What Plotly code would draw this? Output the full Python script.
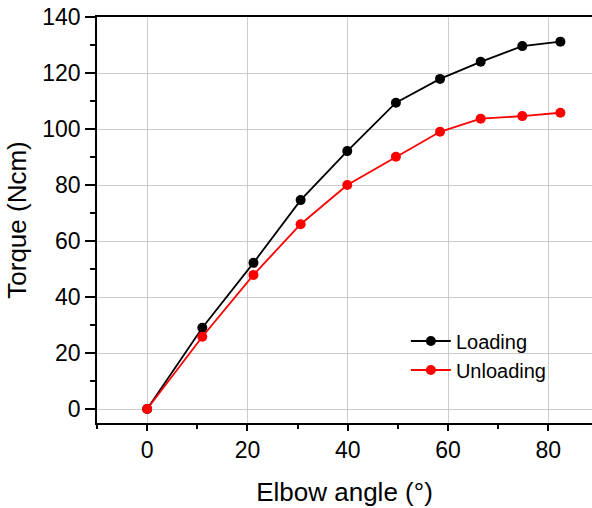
import plotly.graph_objects as go

elbow_angle = [0, 11.0, 21.2, 30.6, 39.9, 49.6, 58.4, 66.5, 74.8, 82.4]
loading = [0, 29.0, 52.2, 74.6, 92.1, 109.4, 117.9, 124.0, 129.6, 131.2]
unloading = [0, 25.8, 47.9, 66.0, 80.0, 90.1, 99.0, 103.7, 104.6, 105.8]
x_ticks = [0, 20, 40, 60, 80]
y_ticks = [0, 20, 40, 60, 80, 100, 120, 140]

FONT = "Liberation Sans, Arial, sans-serif"

fig = go.Figure()
fig.add_trace(go.Scatter(x=elbow_angle, y=loading, mode="lines+markers", name="Loading",
                         line=dict(color="black", width=1.8),
                         marker=dict(color="black", size=10)))
fig.add_trace(go.Scatter(x=elbow_angle, y=unloading, mode="lines+markers", name="Unloading",
                         line=dict(color="#ff0000", width=1.8),
                         marker=dict(color="#ff0000", size=10)))

fig.update_layout(
    width=592, height=508,
    margin=dict(l=97, r=0, t=17, b=85),
    paper_bgcolor="white", plot_bgcolor="white",
    font=dict(family=FONT, color="black"),
    legend=dict(x=0.624, y=0.25, xanchor="left", yanchor="top",
                bgcolor="rgba(0,0,0,0)", font=dict(size=20, family=FONT),
                itemwidth=40, tracegroupgap=0),
    xaxis=dict(range=[-10, 88.7], tickvals=x_ticks, showline=True, linecolor="black",
               linewidth=1.5, mirror=True, ticks="outside", ticklen=6, tickwidth=1.5,
               tickcolor="black", showgrid=True, gridcolor="#cccccc", gridwidth=1,
               zeroline=False, tickfont=dict(size=23),
               minor=dict(ticks="outside", ticklen=4, dtick=10, tick0=0, tickcolor="black", showgrid=False),
               title=dict(text="Elbow angle (°)", font=dict(size=26), standoff=20)),
    yaxis=dict(range=[-5, 140], tickvals=y_ticks, showline=True, linecolor="black",
               linewidth=1.5, mirror=False, ticks="outside", ticklen=10, tickwidth=1.5,
               tickcolor="black", showgrid=True, gridcolor="#cccccc", gridwidth=1,
               zeroline=False, tickfont=dict(size=23),
               minor=dict(ticks="outside", ticklen=5, dtick=10, tick0=0, tickcolor="black", showgrid=False),
               title=dict(text="Torque (Ncm)", font=dict(size=26), standoff=8)),
)

fig.write_html("out.html")
